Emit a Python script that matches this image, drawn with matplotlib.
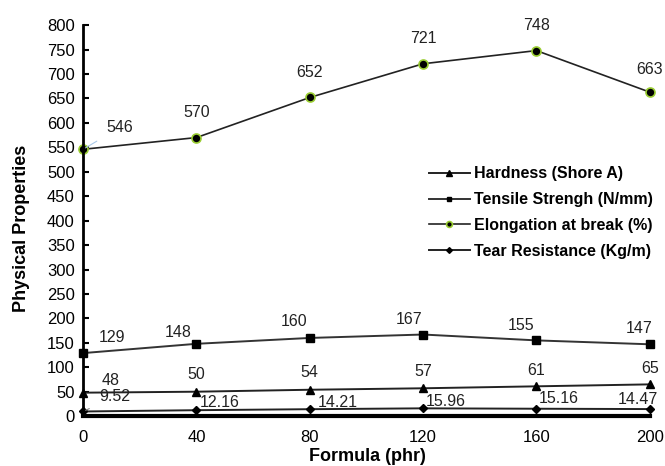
import matplotlib
matplotlib.use('Agg')
import matplotlib.pyplot as plt

plt.rcParams['font.family'] = ['Liberation Sans', 'DejaVu Sans']

# data
formula = [0, 40, 80, 120, 160, 200]
hardness = [48, 50, 54, 57, 61, 65]
tensile = [129, 148, 160, 167, 155, 147]
elongation = [546, 570, 652, 721, 748, 663]
tear = [9.52, 12.16, 14.21, 15.96, 15.16, 14.47]

series_names = ['Hardness (Shore A)', 'Tensile Strengh (N/mm)',
                'Elongation at break (%)', 'Tear Resistance (Kg/m)']
yticks = list(range(0, 801, 50))
xticks = [0, 40, 80, 120, 160, 200]

# label offsets in pixels (dx, dy) relative to each point
off_hard = [(28, 12), (0, 17), (0, 17), (0, 17), (0, 16), (0, 16)]
off_tens = [(29, 16), (-18, 11), (-16, 16), (-14, 15), (-15, 15), (-11, 16)]
off_elon = [(37, 22), (0, 25), (0, 25), (0, 25), (0, 25), (0, 23)]
off_tear = [(32, 15), (23, 8), (28, 7), (23, 7), (22, 10), (-12, 10)]

fig = plt.figure(figsize=(6.65, 4.66), dpi=100, facecolor='white')
ax = fig.add_axes([0.125, 0.107, 0.852, 0.839])

ax.plot(formula, hardness, color='#222222', lw=1.4, marker='^', ms=6,
        mfc='black', mec='black', clip_on=False, label=series_names[0])
ax.plot(formula, tensile, color='#333333', lw=1.4, marker='s', ms=5.5,
        mfc='black', mec='black', clip_on=False, label=series_names[1])
ax.plot(formula, elongation, color='#222222', lw=1.2, marker='o', ms=6.5,
        mfc='black', mec='#9acd32', mew=1.2, clip_on=False, label=series_names[2])
ax.plot(formula, tear, color='#222222', lw=1.4, marker='D', ms=4.5,
        mfc='black', mec='black', clip_on=False, label=series_names[3])

def put_labels(values, offsets, fmt, leader_idx=None, leader_color='#888888'):
    for i, (x, v) in enumerate(zip(formula, values)):
        props = None
        if i == leader_idx:
            props = dict(arrowstyle='-', color=leader_color, lw=0.8,
                         shrinkA=6, shrinkB=2)
        ax.annotate(fmt.format(v), (x, v), xytext=offsets[i],
                    textcoords='offset pixels', ha='center', va='center',
                    fontsize=11.5, color='#222222', arrowprops=props)

put_labels(elongation, off_elon, '{:d}', leader_idx=0, leader_color='#a8c8e8')
put_labels(tensile, off_tens, '{:d}')
put_labels(hardness, off_hard, '{:d}')
put_labels(tear, off_tear, '{:.2f}', leader_idx=0)

ax.set_xlim(0, 200)
ax.set_ylim(0, 800)
ax.set_xticks(xticks)
ax.set_yticks(yticks)
ax.tick_params(axis='y', direction='in', length=4, width=1.5, labelsize=12, pad=6)
ax.tick_params(axis='x', length=0, labelsize=12, pad=10)

for side in ['top', 'right']:
    ax.spines[side].set_visible(False)
ax.spines['left'].set_linewidth(2)
ax.spines['bottom'].set_linewidth(3)

fig.text(0.033, 0.51, 'Physical Properties', rotation=90, ha='center', va='center',
         fontsize=13, fontweight='bold')
fig.text(0.552, 0.02, 'Formula (phr)', ha='center', va='center',
         fontsize=13, fontweight='bold')

leg = ax.legend(loc='upper left', bbox_to_anchor=(0.645, 0.643),
                bbox_transform=fig.transFigure, frameon=False,
                borderpad=0, borderaxespad=0, handlelength=2.55,
                handletextpad=0.3, labelspacing=0.68, markerscale=0.65,
                prop={'size': 11.5, 'weight': 'bold'})

fig.savefig('out.png', dpi=100, facecolor='white')
